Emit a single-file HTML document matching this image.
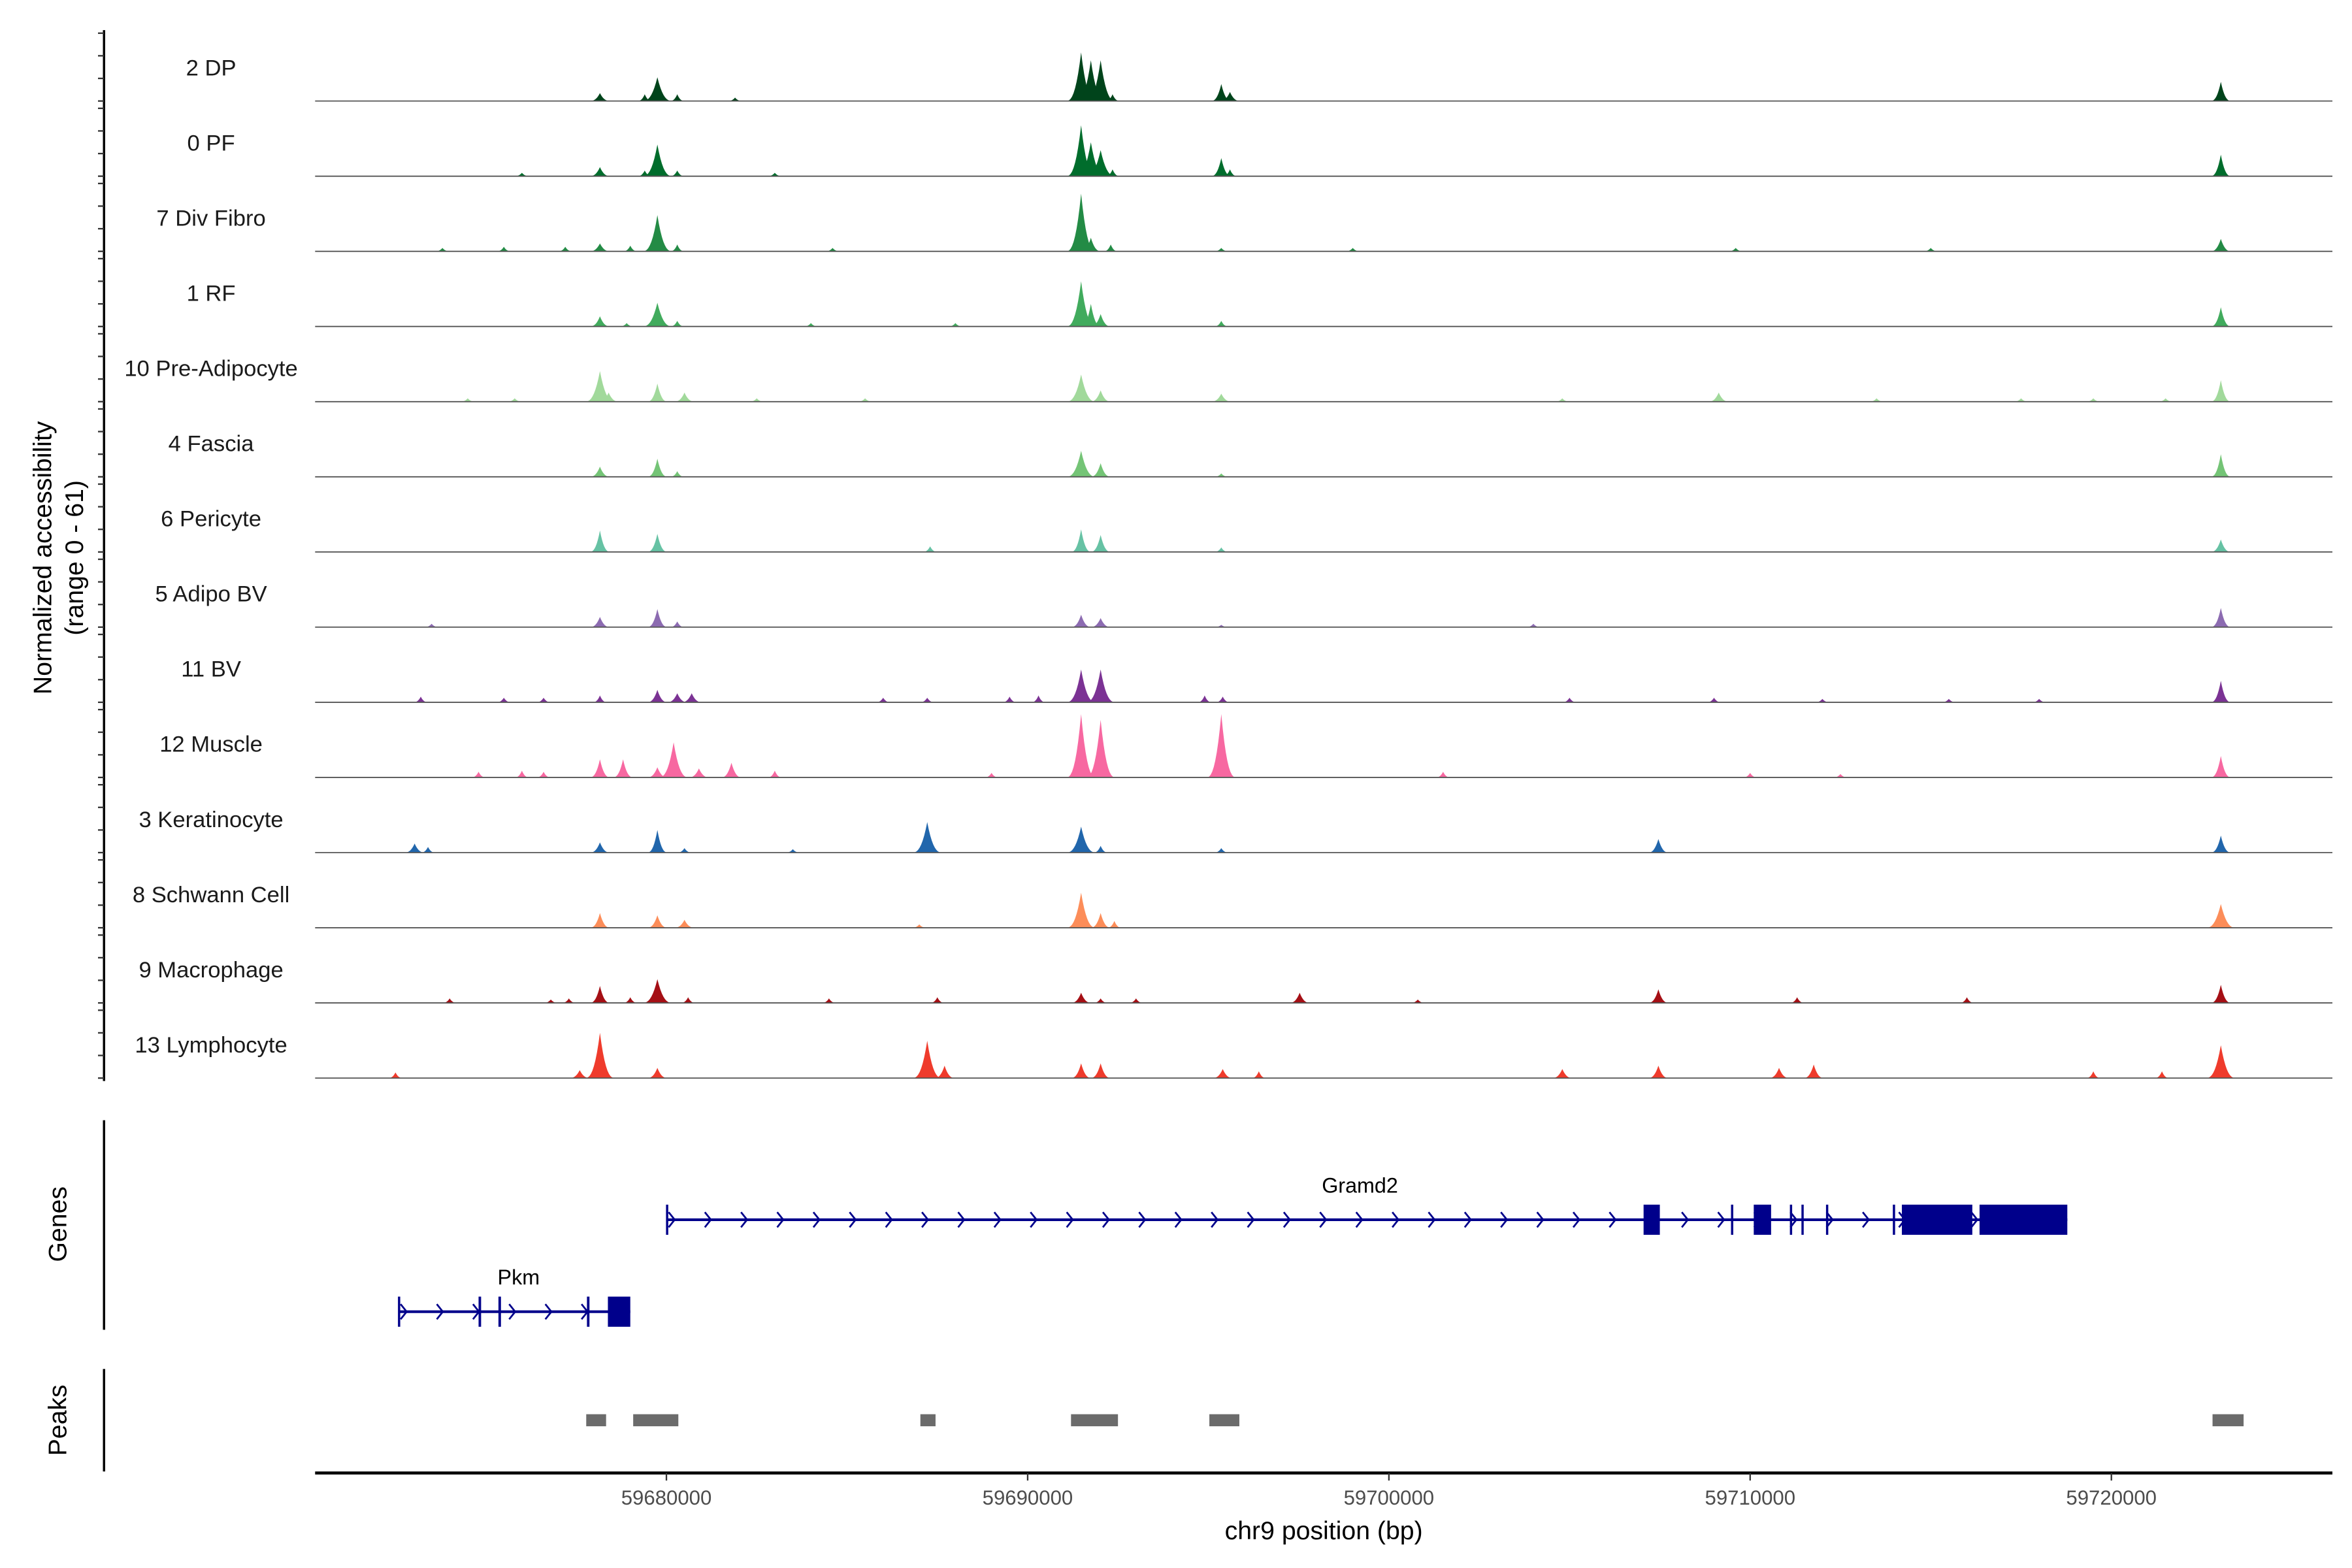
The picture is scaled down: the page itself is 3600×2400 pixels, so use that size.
<!DOCTYPE html>
<html><head><meta charset="utf-8"><style>
html,body{margin:0;padding:0;background:#fff;}
svg{display:block;font-family:"Liberation Sans",sans-serif;}
</style></head><body>
<svg id="chart" width="3600" height="2400" viewBox="0 0 1560 1040" xmlns="http://www.w3.org/2000/svg">
<g id="tracks"></g>
<g id="genes"></g>
<g id="peaks"></g>
<g id="xaxis"></g>
<text transform="translate(34,370) rotate(-90)" text-anchor="middle" font-size="17" fill="#000">Normalized accessibility</text>
<text transform="translate(55,370) rotate(-90)" text-anchor="middle" font-size="17" fill="#000">(range 0 - 61)</text>
<text transform="translate(44,812) rotate(-90)" text-anchor="middle" font-size="17" fill="#000">Genes</text>
<text transform="translate(44,942) rotate(-90)" text-anchor="middle" font-size="17" fill="#000">Peaks</text>
<text x="878" y="1021" text-anchor="middle" font-size="17" fill="#000">chr9 position (bp)</text>
</svg>
<script>
const NS="http://www.w3.org/2000/svg";
const trackNames=["2 DP","0 PF","7 Div Fibro","1 RF","10 Pre-Adipocyte","4 Fascia","6 Pericyte","5 Adipo BV","11 BV","12 Muscle","3 Keratinocyte","8 Schwann Cell","9 Macrophage","13 Lymphocyte"];
const trackColors=["#00441b","#006d2c","#238b45","#41ab5d","#a1d99b","#74c476","#66c2a4","#8c6bb1","#7b3294","#f768a1","#2166ac","#fc8d59","#a50f15","#ef3b2c"];
const P_A=59678160,P_B=59679750,P_C=59691480,P_D=59692020,P_E=59695360,P_F=59723030,P_K=59687220,P_M=59707460;
const peakPos=[
 [P_A,59679400,P_B,59680300,59681900,P_C,59691750,P_D,59692350,P_E,59695600,P_F],
 [59676000,P_A,59679400,P_B,59680300,59683000,P_C,59691750,P_D,59692350,P_E,59695600,P_F],
 [59673800,59675500,59677200,P_A,59679000,P_B,59680300,59684600,P_C,59691750,59692300,P_E,59699000,59709600,59715000,P_F],
 [59678900,P_A,P_B,59680300,59684000,59688000,P_C,59691750,P_D,P_E,P_F],
 [59674500,59675800,P_A,59678400,P_B,59680500,59682500,59685500,P_C,P_D,P_E,59704800,59709130,P_F,59713500,59717500,59719500,59721500],
 [P_A,P_B,59680300,P_C,P_D,P_E,P_F],
 [P_A,P_B,P_C,P_D,59687300,P_E,P_F],
 [59673500,P_A,P_B,59680300,P_C,P_D,P_E,59704000,P_F],
 [59673200,59675500,59676600,P_A,P_B,59680300,59680700,59686000,P_K,59689500,59690300,P_C,P_D,59694900,59695400,59705000,59709000,59712000,59715500,59718000,P_F],
 [59674800,59676000,59676600,P_A,59678800,P_B,59680200,59680900,59681800,59683000,59689000,P_C,P_D,P_E,59701500,59710000,59712500,P_F],
 [59673030,59673400,P_A,P_B,59680500,59683500,P_K,P_C,P_D,P_E,P_M,P_F],
 [P_A,P_B,59680500,59687000,P_C,P_D,59692400,P_F],
 [59674000,59676800,59677300,P_A,59679000,P_B,59680600,59684500,59687500,P_C,P_D,59693000,59697530,59700800,P_M,59711300,59716000,P_F],
 [59672500,59677600,P_A,P_B,P_K,59687700,P_C,P_D,59695400,59696400,59704800,P_M,59710800,P_M+4300,59719500,59721400,P_F]
];
const peakVals=[
 [7,6,21,6,3,43,36,36,6,15,8,17],
 [3,8,5,28,5,3,45,30,23,6,16,6,19],
 [3,4,4,7,5,32,6,3,51,12,6,3,3,3,3,11],
 [3,9,21,5,3,3,40,20,11,5,17],
 [3,3,27,8,16,8,3,3,24,10,7,3,8,19,3,3,3,3],
 [9,16,5,23,12,3,20],
 [19,16,20,15,5,4,11],
 [3,9,16,5,11,8,2,3,17],
 [5,4,4,6,11,8,8,4,4,5,6,29,29,6,5,4,4,3,3,3,19],
 [5,6,5,16,16,9,31,8,13,6,4,56,51,56,5,4,3,19],
 [8,5,9,20,4,3,27,23,6,4,12,15],
 [13,11,7,3,31,13,6,21],
 [4,3,4,15,5,21,5,4,5,9,4,4,9,3,12,5,5,16],
 [5,7,40,9,33,11,13,13,8,6,8,11,9,12,6,6,29]
];
const xMin=59670275, pxPerBp=0.02396, x0=209, x1=1547;
function xs(bp){return x0+(bp-xMin)*pxPerBp;}
const base0=67, trackStep=49.85, pxPerUnit=0.75;
function ys(v,i){return base0+i*trackStep-v*pxPerUnit;}
const tg=document.getElementById('tracks');
function mk(tag,attrs,parent){const e=document.createElementNS(NS,tag);for(const k in attrs)e.setAttribute(k,attrs[k]);parent.appendChild(e);return e;}
const ax=mk('line',{x1:69,x2:69,y1:20,y2:717,stroke:'#000','stroke-width':1.5},tg);


trackNames.forEach((name,i)=>{
  const g=mk('g',{},tg);
  
  
  [0,20,40,60].forEach(v=>{const t=mk('line',{x1:65,x2:69,y1:ys(v,i),y2:ys(v,i),stroke:'#333','stroke-width':1},g);
    
    });
  const lab=mk('text',{x:140,y:base0+i*trackStep-17,'text-anchor':'middle','font-size':15,fill:'#1a1a1a'},g);
  lab.textContent=name;
  
  
  const b=base0+i*trackStep;
  peakPos[i].forEach((p,j)=>{
    const h=peakVals[i][j]*pxPerUnit, cx=xs(p), w=h>15?10:(h>5?7:5);
    let d='M'+(cx-w)+','+b;
    for(let k=-10;k<=10;k++){const t=k/10;const f=Math.pow(1-Math.abs(t),2.6);d+=' L'+(cx+t*w).toFixed(2)+','+(b-h*f).toFixed(2);}
    d+=' Z';
    const pa=mk('path',{d:d,fill:trackColors[i]},g);
    
    
  });
  const bl=mk('line',{x1:x0,x2:x1,y1:b,y2:b,stroke:'#555','stroke-width':0.8},g);
  
  
});
const gg=document.getElementById('genes');
const ga=mk('line',{x1:69,x2:69,y1:743,y2:882,stroke:'#000','stroke-width':1.5},gg);


const geneNames=["Gramd2","Pkm"];
const geneStart=[59680020,59672600];
const geneEnd=[59718780,59679000];
const geneY=[809,870];
const geneExons=[[[59707050,59707500],[59709470,59709520],[59710100,59710580],[59711100,59711150],[59711420,59711470],[59712100,59712150],[59713950,59714000],[59714200,59716150],[59716350,59718780]],
 [[59674800,59674870],[59675350,59675420],[59677800,59677870],[59678380,59679000]]];
const BLUE='#00008b';
geneNames.forEach((n,i)=>{
  const g=mk('g',{},gg);
  
  
  const y=geneY[i],xa=xs(geneStart[i]),xb=xs(geneEnd[i]);
  mk('line',{x1:xa,x2:xb,y1:y,y2:y,stroke:BLUE,'stroke-width':1.8},g);
  for(let x=xa;x<xb-8;x+=24){mk('path',{d:`M${x+1},${y-5} L${x+5},${y} L${x+1},${y+5}`,fill:'none',stroke:BLUE,'stroke-width':1.2},g);}
  mk('line',{x1:xa,x2:xa,y1:y-10,y2:y+10,stroke:BLUE,'stroke-width':1.5},g);
  geneExons[i].forEach(e=>{const a=xs(e[0]),bb=xs(e[1]);
    const r=mk('rect',{x:a,y:y-10,width:Math.max(1.5,bb-a),height:20,fill:BLUE},g);
    
    });
  const t=mk('text',{x:(i==0?902:344),y:y-18,'text-anchor':'middle','font-size':14,fill:'#000'},g);
  t.textContent=n;
  
  
});
const pg=document.getElementById('peaks');
const pa2=mk('line',{x1:69,x2:69,y1:908,y2:976,stroke:'#000','stroke-width':1.5},pg);


const peakStarts=[59677780,59679080,59687030,59691200,59695030,59722800];
const peakEnds=[59678330,59680330,59687450,59692500,59695860,59723660];
peakStarts.forEach((s,i)=>{
  const r=mk('rect',{x:xs(s),y:938,width:xs(peakEnds[i])-xs(s),height:8,fill:'#6b6b6b'},pg);
  
  
});
const xg=document.getElementById('xaxis');
mk('line',{x1:x0,x2:x1,y1:977,y2:977,stroke:'#000','stroke-width':2},xg);
const xTicks=[59680000,59690000,59700000,59710000,59720000];
xTicks.forEach(v=>{
  mk('line',{x1:xs(v),x2:xs(v),y1:977,y2:982,stroke:'#333','stroke-width':1},xg);
  const t=mk('text',{x:xs(v),y:998,'text-anchor':'middle','font-size':13.5,fill:'#4d4d4d'},xg);
  t.textContent=String(v);
  
  
});
</script>
</body></html>
